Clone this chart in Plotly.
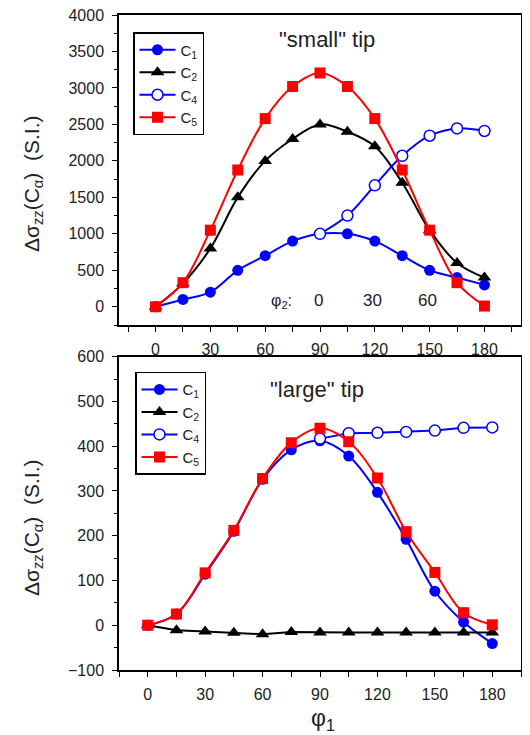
import plotly.graph_objects as go

phi1 = [0, 15, 30, 45, 60, 75, 90, 105, 120, 135, 150, 165, 180]
phi1_c4 = [90, 105, 120, 135, 150, 165, 180]

# "small" tip
small_c1 = [0, 100, 200, 500, 700, 900, 1000, 1000, 900, 700, 500, 400, 300]
small_c2 = [0, 320, 800, 1500, 2000, 2300, 2500, 2400, 2200, 1700, 1050, 600, 400]
small_c4 = [1000, 1250, 1665, 2070, 2345, 2445, 2410]
small_c5 = [0, 330, 1050, 1875, 2580, 3020, 3205, 3020, 2580, 1875, 1050, 330, 10]

# "large" tip
large_c1 = [0, 25, 114, 210, 326, 392, 412, 378, 297, 192, 76, 7, -41]
large_c2 = [0, -11, -14, -17, -20, -15, -16, -16, -16, -16, -16, -16, -16]
large_c4 = [417, 429, 430, 432, 435, 441, 442]
large_c5 = [0, 25, 117, 212, 328, 408, 440, 410, 329, 209, 118, 28, 1]

phi2_labels = ["0", "30", "60"]
phi2_pos = [89, 118.5, 149]

BLUE = "#0000FF"
RED = "#FF0000"
BLACK = "#000000"
FONT = "Liberation Sans, Arial, sans-serif"
TXT = "#222222"

# page has an 8px body margin
W, H, OFF = 514, 727, 8
def px(x):
    return (x - OFF) / W
def py(y):
    return 1 - (y - OFF) / H

fig = go.Figure()

def add_set(c1, c2, c4, c5, xa, ya, legend, smooth_c2=True, smooth_c4=True):
    fig.add_trace(go.Scatter(x=phi1, y=c1, name="C<sub>1</sub>", mode="lines+markers",
                             line=dict(color=BLUE, width=2, shape="spline"),
                             marker=dict(symbol="circle", size=11, color=BLUE),
                             xaxis=xa, yaxis=ya, legend=legend))
    fig.add_trace(go.Scatter(x=phi1, y=c2, name="C<sub>2</sub>", mode="lines+markers",
                             line=dict(color=BLACK, width=2, shape="spline" if smooth_c2 else "linear"),
                             marker=dict(symbol="triangle-up", size=12, color=BLACK),
                             xaxis=xa, yaxis=ya, legend=legend))
    fig.add_trace(go.Scatter(x=phi1_c4, y=c4, name="C<sub>4</sub>", mode="lines+markers",
                             line=dict(color=BLUE, width=2, shape="spline" if smooth_c4 else "linear"),
                             marker=dict(symbol="circle", size=11, color="white",
                                         line=dict(color=BLUE, width=1.5)),
                             xaxis=xa, yaxis=ya, legend=legend))
    fig.add_trace(go.Scatter(x=phi1, y=c5, name="C<sub>5</sub>", mode="lines+markers",
                             line=dict(color=RED, width=2, shape="spline"),
                             marker=dict(symbol="square", size=11, color=RED),
                             xaxis=xa, yaxis=ya, legend=legend))

add_set(small_c1, small_c2, small_c4, small_c5, "x", "y", "legend")
add_set(large_c1, large_c2, large_c4, large_c5, "x2", "y2", "legend2",
        smooth_c2=False, smooth_c4=False)

axis_common = dict(showline=True, linecolor="black", linewidth=1.5, mirror=True,
                   ticks="outside", ticklen=5, tickwidth=1.2, tickcolor="black",
                   showgrid=False, zeroline=False, automargin=False,
                   ticklabeloverflow="allow",
                   tickfont=dict(family=FONT, size=16, color=TXT))

xdom = [px(119), px(521)]
legend_common = dict(xanchor="left", yanchor="top",
                     bordercolor="black", borderwidth=1.5, bgcolor="white",
                     font=dict(family=FONT, size=15, color=TXT), itemwidth=36,
                     tracegroupgap=0, traceorder="normal")
fig.update_layout(
    width=W, height=H,
    margin=dict(l=0, r=0, t=0, b=0, autoexpand=False),
    paper_bgcolor="white", plot_bgcolor="white",
    font=dict(family=FONT, color=TXT),
    xaxis=dict(domain=xdom, range=[-20, 200], tick0=0, dtick=30, anchor="y",
               ticklabelstandoff=4,
               minor=dict(dtick=15, tick0=15, ticks="outside", ticklen=5, tickcolor="black"),
               **axis_common),
    yaxis=dict(domain=[py(325), py(15)], range=[-250, 4000], tick0=0, dtick=500,
               anchor="x", ticklabelstandoff=5,
               minor=dict(dtick=250, tick0=0, ticks="outside", ticklen=3, tickcolor="black"),
               **axis_common),
    xaxis2=dict(domain=xdom, range=[-15, 195], tick0=0, dtick=30, anchor="y2",
                ticklabelstandoff=4,
                minor=dict(dtick=15, tick0=15, ticks="outside", ticklen=5, tickcolor="black"),
                **axis_common),
    yaxis2=dict(domain=[py(670), py(356.7)], range=[-100, 600], tick0=0, dtick=100,
                anchor="x2", ticklabelstandoff=5,
                minor=dict(dtick=50, tick0=0, ticks="outside", ticklen=3, tickcolor="black"),
                **axis_common),
    legend=dict(x=px(133), y=py(32), **legend_common),
    legend2=dict(x=px(135), y=py(371.7), **legend_common),
    showlegend=True,
)

ytitle = "Δσ<sub>zz</sub>(C<sub>α</sub>)&nbsp;&nbsp;(S.I.)"
for ycen in [py(184), py(528)]:
    fig.add_annotation(text=ytitle, xref="paper", yref="paper", x=px(33), y=ycen,
                       textangle=-90, showarrow=False, xanchor="center", yanchor="middle",
                       font=dict(family=FONT, size=21, color=TXT))

fig.add_annotation(text="φ<sub>1</sub>", xref="paper", yref="paper", x=px(323), y=py(719),
                   showarrow=False, xanchor="center", yanchor="middle",
                   font=dict(family=FONT, size=23, color=TXT))

fig.add_annotation(text='"small" tip', xref="x", yref="y", x=94, y=3670, showarrow=False,
                   font=dict(family=FONT, size=22, color=TXT))
fig.add_annotation(text='"large" tip', xref="x2", yref="y2", x=88.5, y=526, showarrow=False,
                   font=dict(family=FONT, size=22, color=TXT))

fig.add_annotation(text="φ<sub>2</sub>:", xref="x", yref="y", x=69, y=70, showarrow=False,
                   font=dict(family=FONT, size=16, color=TXT))
for lab, xp in zip(phi2_labels, phi2_pos):
    fig.add_annotation(text=lab, xref="x", yref="y", x=xp, y=80, showarrow=False,
                       font=dict(family=FONT, size=17, color=TXT))

fig.write_html("out.html")
